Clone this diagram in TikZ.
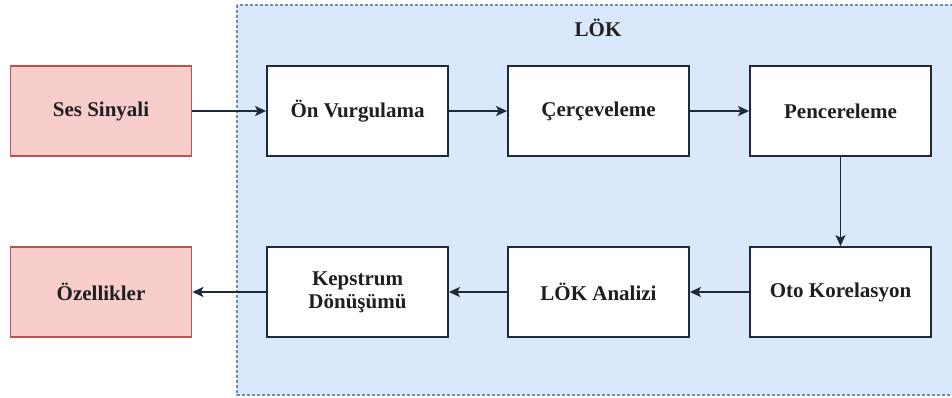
\documentclass[tikz,border=0pt]{standalone}
\usepackage{fontspec}
\setmainfont{Liberation Serif}
\usetikzlibrary{arrows.meta}
\definecolor{lokfill}{HTML}{DAE8FC}
\definecolor{lokdraw}{HTML}{6C8EBF}
\definecolor{pinkfill}{HTML}{F8CECC}
\definecolor{pinkdraw}{HTML}{B85450}
\definecolor{linec}{HTML}{1E2A38}
\tikzset{
  box/.style={draw=linec, line width=1.8pt, fill=white, minimum width=181pt, minimum height=90pt, inner sep=2pt, align=center, font=\fontsize{21}{23}\selectfont\bfseries, text=black!88},
  iobox/.style={box, draw=pinkdraw, fill=pinkfill},
  conn/.style={draw=linec, line width=1.8pt, -{Stealth[length=11pt,width=10pt,inset=2.5pt]}}
}
\begin{document}
\begin{tikzpicture}[x=1pt,y=-1pt]
\useasboundingbox (0,0) rectangle (952,397);
\fill[white] (0,0) rectangle (952,397);
\draw[fill=lokfill, draw=lokdraw, line width=1.2pt, dash pattern=on 3pt off 2pt] (237,5) rectangle (960,395);
\node[font=\fontsize{21}{23}\selectfont\bfseries, text=black!88] (lok) at (598,28) {LÖK};
\node[iobox] (ses) at (101,111) {Ses Sinyali};
\node[box] (on) at (357.5,111) {Ön Vurgulama};
\node[box] (cer) at (598.5,111) {Çerçeveleme};
\node[box] (pen) at (840.5,111) {Pencereleme};
\node[box] (oto) at (840.5,292) {Oto Korelasyon};
\node[box] (lka) at (598.5,292) {LÖK Analizi};
\node[box] (kep) at (357.5,292) {Kepstrum\\Dönüşümü};
\node[iobox] (ozl) at (101,292) {Özellikler};
\draw[conn] (ses) -- (on);
\draw[conn] (on) -- (cer);
\draw[conn] (cer) -- (pen);
\draw[conn] (pen.south) -- (oto.north);
\draw[conn] (oto) -- (lka);
\draw[conn] (lka) -- (kep);
\draw[conn] (kep) -- (ozl);
\end{tikzpicture}
\end{document}
